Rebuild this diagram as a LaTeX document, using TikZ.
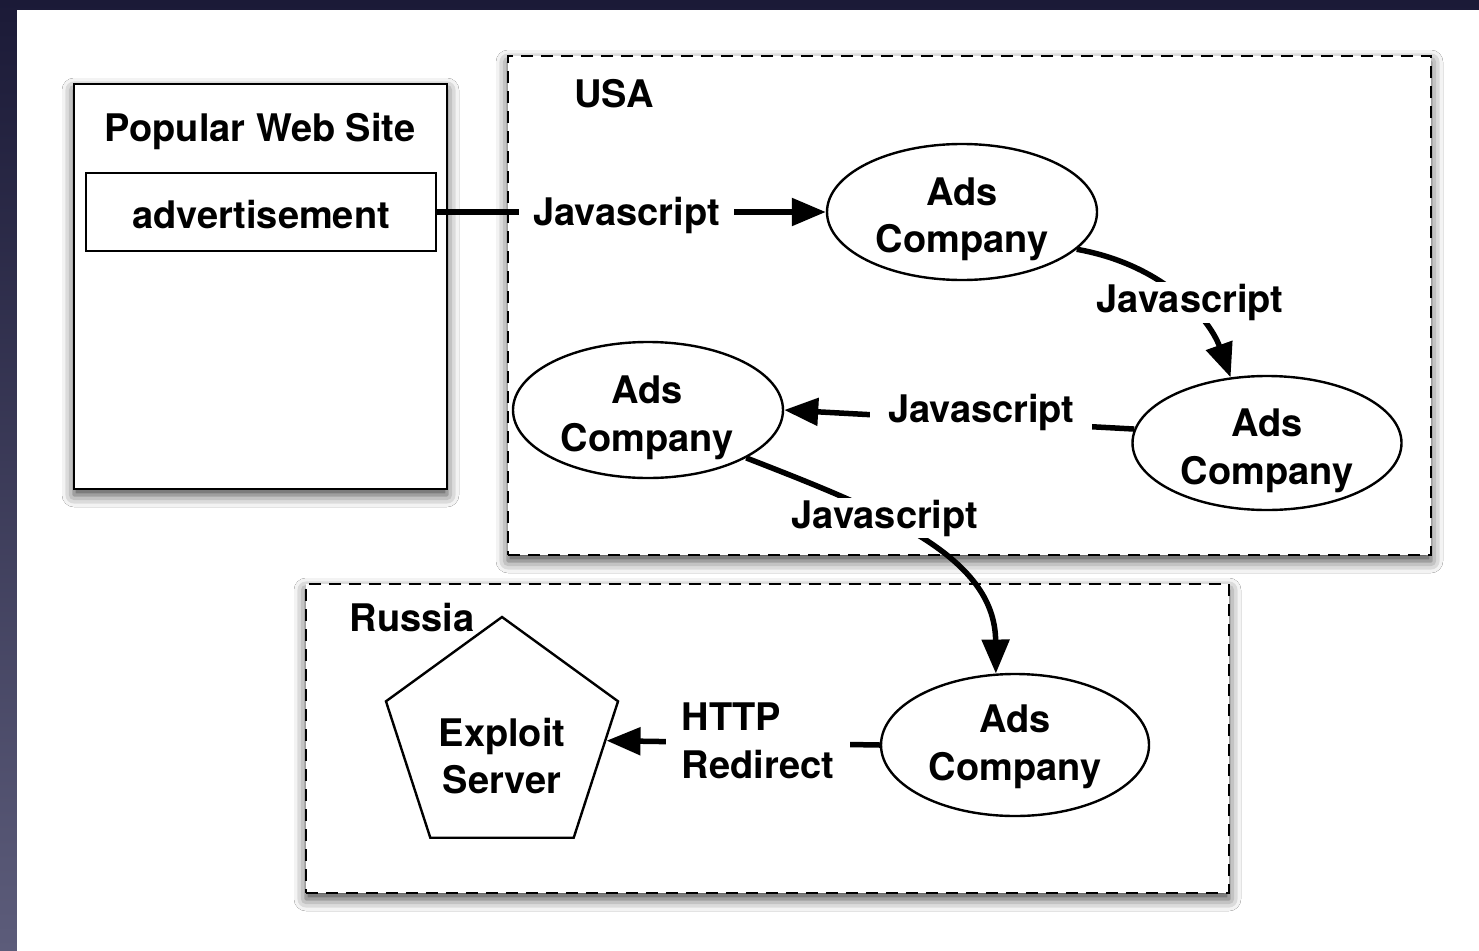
\documentclass[tikz,border=0pt]{standalone}
\usepackage{fontspec}
\setmainfont{TeX Gyre Heros}
\usetikzlibrary{shapes.geometric,arrows.meta,shadows.blur}
\definecolor{navy}{HTML}{1B1A37}
\definecolor{slate}{HTML}{5C5C7A}
\begin{document}
\begin{tikzpicture}[x=1pt,y=1pt,
  txt/.style={font=\fontsize{38}{47.5}\selectfont\bfseries, align=center},
  shad/.style={blur shadow={shadow xshift=0pt, shadow yshift=-6pt, shadow blur radius=12pt, shadow opacity=75}},
  sitebox/.style={draw=black, line width=2.8pt, fill=white, shad, inner sep=0pt},
  region/.style={draw=black, line width=2.8pt, dash pattern=on 12pt off 8pt, fill=white, shad, inner sep=0pt},
  ads/.style={ellipse, draw=black, line width=2.4pt, fill=white, inner sep=0pt},
  lab/.style={txt, fill=white, inner xsep=14pt, inner ysep=4pt},
  conn/.style={line width=5.5pt, -{Triangle[length=34pt,width=27pt]}},
]
\useasboundingbox (0,0) rectangle (1479,-950);
% slide background
\fill[top color=navy, bottom color=slate] (0,0) rectangle (1479,-950);
\fill[white] (17,-10) rectangle (1482,-953);

% regions
\node[sitebox, minimum width=373pt, minimum height=405pt] (site) at (260.5,-286.5) {};
\node[region, minimum width=923pt, minimum height=499pt] (usa) at (969.5,-305.5) {};
\node[region, minimum width=923pt, minimum height=309pt] (russia) at (767.5,-738.5) {};

\node[txt] (sitetitle) at (260,-131) {Popular Web Site};
\node[draw=black, line width=2.4pt, fill=white, minimum width=350pt, minimum height=78pt, inner sep=0pt, text height=33pt, text depth=0pt, txt] (adv) at (261,-212) {advertisement};
\node[txt] (usalabel) at (614,-94) {USA};
\node[txt] (russialabel) at (412,-618) {Russia};

% ads companies
\node[ads, minimum width=270pt, minimum height=136pt] (ads1) at (962,-212) {};
\node[txt] (ads1t) at (962,-219.5) {Ads\\Company};
\node[ads, minimum width=269pt, minimum height=134pt] (ads2) at (1267,-443) {};
\node[txt] (ads2t) at (1267,-451) {Ads\\Company};
\node[ads, minimum width=270pt, minimum height=136pt] (ads3) at (648,-410) {};
\node[txt] (ads3t) at (647,-418) {Ads\\Company};
\node[ads, minimum width=268pt, minimum height=142pt] (ads4) at (1015,-745) {};
\node[txt] (ads4t) at (1015,-747) {Ads\\Company};

% exploit server
\node[regular polygon, regular polygon sides=5, draw=black, line width=2.4pt, fill=white, minimum size=244pt, inner sep=0pt] (exploit) at (502,-739) {};
\node[txt] (exploittext) at (502,-756) {Exploit\\Server};

% connectors
\draw[conn] (adv.east) -- node[lab, pos=0.487, yshift=-3pt] (l1) {Javascript} (ads1.west);
\draw[conn] (ads1.-18) .. controls (1165,-265) and (1210,-320) .. node[lab, pos=0.5, xshift=11pt, yshift=-5pt, inner xsep=6pt, inner ysep=2pt] (l2) {Javascript} (ads2.119);
\draw[conn] (ads2.174) -- node[lab, pos=0.437, yshift=8pt, inner xsep=18pt] (l3) {Javascript} (ads3.east);
\draw[conn] (ads3.-26) .. controls (880,-510) and (995,-555) .. node[lab, pos=0.36, xshift=6pt, yshift=-3pt, inner xsep=8pt, inner ysep=2pt] (l4) {Javascript} (ads4.105);
\draw[conn] (ads4.west) -- node[lab, pos=0.453, xshift=2pt, yshift=2pt, align=left, inner xsep=16pt] (l5) {HTTP\\Redirect} (exploit);
\end{tikzpicture}
\end{document}
